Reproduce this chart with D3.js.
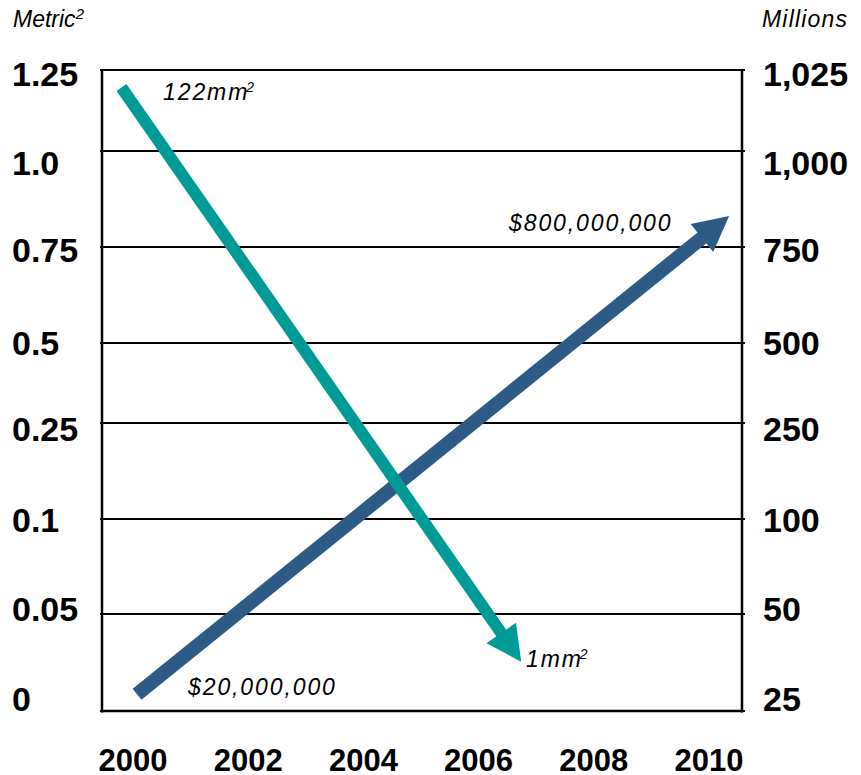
<!DOCTYPE html>
<html>
<head>
<meta charset="utf-8">
<script src="https://cdn.jsdelivr.net/npm/d3@7"></script>
<style>
  html, body { margin: 0; padding: 0; background: #fff; }
  svg { display: block; font-family: "Liberation Sans", Arial, Helvetica, sans-serif; }
</style>
</head>
<body>
<svg id="chart" width="861" height="775"></svg>
<script>
// ---------- data ----------
const years = [2000, 2002, 2004, 2006, 2008, 2010];
const leftTicks = [0, 0.05, 0.1, 0.25, 0.5, 0.75, 1.0, 1.25];
const leftTickLabels = ["0", "0.05", "0.1", "0.25", "0.5", "0.75", "1.0", "1.25"];
const rightTicks = [25, 50, 100, 250, 500, 750, 1000, 1025];
const rightTickLabels = ["25", "50", "100", "250", "500", "750", "1,000", "1,025"];
const leftAxisTitle = "Metric";
const rightAxisTitle = "Millions";
// feature size trend (left axis), start -> end
const featureYears = [1999.8, 2006.74];
const featureValues = [1.196, 0.0254];
// cost trend (right axis, millions), start -> end
const costYears = [2000.07, 2010.35];
const costValues = [29.3, 831];
const featureLabels = ["122mm", "1mm"];
const costLabels = ["$20,000,000", "$800,000,000"];

// ---------- layout ----------
const svg = d3.select("#chart");
svg.append("rect").attr("width", 861).attr("height", 775).attr("fill", "#fff");

const plotLeft = 102, plotRight = 742, plotTop = 70, plotBottom = 711;
const gridPx = [711, 614, 519, 423, 343, 247, 151, 70];
const labelCenterPx = [698.5, 609, 520, 429, 343, 250, 162.5, 73.5];

const x = d3.scaleLinear().domain([2000, 2010]).range([133, 709]);
const yLeft = d3.scaleLinear().domain(leftTicks).range(gridPx);
const yRight = d3.scaleLinear().domain(rightTicks).range(gridPx);
const yLabel = d3.scaleLinear().domain(leftTicks).range(labelCenterPx);

const teal = "#009B97";
const blue = "#2E5A86";

// gridlines
svg.append("g").selectAll("line").data(leftTicks).join("line")
  .attr("x1", plotLeft - 2).attr("x2", plotRight + 3)
  .attr("y1", d => yLeft(d)).attr("y2", d => yLeft(d))
  .attr("stroke", "#000").attr("stroke-width", 2);

// axes lines
svg.append("line").attr("x1", plotLeft).attr("x2", plotLeft)
  .attr("y1", plotTop - 1).attr("y2", plotBottom + 1.5)
  .attr("stroke", "#000").attr("stroke-width", 2.5);
svg.append("line").attr("x1", plotRight).attr("x2", plotRight)
  .attr("y1", plotTop - 1).attr("y2", plotBottom + 1.5)
  .attr("stroke", "#000").attr("stroke-width", 2.5);
svg.append("line").attr("x1", plotLeft - 1).attr("x2", plotRight + 1)
  .attr("y1", plotBottom).attr("y2", plotBottom)
  .attr("stroke", "#000").attr("stroke-width", 2.5);

// tick labels
const tickFont = 34;
svg.append("g").selectAll("text").data(leftTicks).join("text")
  .attr("x", 12)
  .attr("y", d => yLabel(d) + tickFont * 0.36)
  .attr("font-size", tickFont).attr("font-weight", "bold").attr("fill", "#000")
  .text((d, i) => leftTickLabels[i]);
svg.append("g").selectAll("text").data(rightTicks).join("text")
  .attr("x", 763)
  .attr("y", (d, i) => yLabel(leftTicks[i]) + tickFont * 0.36)
  .attr("font-size", tickFont).attr("font-weight", "bold").attr("fill", "#000")
  .text((d, i) => rightTickLabels[i]);
svg.append("g").selectAll("text").data(years).join("text")
  .attr("x", d => x(d)).attr("y", 771)
  .attr("text-anchor", "middle")
  .attr("font-size", 31).attr("font-weight", "bold").attr("fill", "#000")
  .text(d => d);

// axis titles
const lt = svg.append("text").attr("x", 13).attr("y", 27)
  .attr("font-size", 23).attr("font-style", "italic").attr("fill", "#000");
lt.append("tspan").text(leftAxisTitle);
lt.append("tspan").attr("font-size", 15).attr("dy", -8).text("2");
svg.append("text").attr("x", 762).attr("y", 27)
  .attr("font-size", 23).attr("font-style", "italic").attr("fill", "#000")
  .attr("letter-spacing", 1.2)
  .text(rightAxisTitle);

// arrows
function arrow(p0, p1, w, color) {
  const dx = p1[0] - p0[0], dy = p1[1] - p0[1];
  const len = Math.hypot(dx, dy);
  const ux = dx / len, uy = dy / len;
  const nx = -uy, ny = ux;
  const L = 35, W = 36;
  const bx = p1[0] - L * ux, by = p1[1] - L * uy;
  const g = svg.append("g");
  g.append("line")
    .attr("x1", p0[0]).attr("y1", p0[1])
    .attr("x2", bx + ux * 2).attr("y2", by + uy * 2)
    .attr("stroke", color).attr("stroke-width", w).attr("stroke-linecap", "butt");
  g.append("path")
    .attr("d", d3.line()([[p1[0], p1[1]], [bx + nx * W / 2, by + ny * W / 2], [bx - nx * W / 2, by - ny * W / 2]]) + "Z")
    .attr("fill", color);
}
arrow([x(costYears[0]), yRight(costValues[0])], [x(costYears[1]), yRight(costValues[1])], 14, blue);
arrow([x(featureYears[0]), yLeft(featureValues[0])], [x(featureYears[1]), yLeft(featureValues[1])], 12, teal);

// annotations
function annot(xp, yp, txt, sup) {
  const t = svg.append("text").attr("x", xp).attr("y", yp)
    .attr("font-size", 23).attr("font-style", "italic").attr("fill", "#000");
  t.append("tspan").attr("letter-spacing", 1.9).text(txt);
  if (sup) t.append("tspan").attr("font-size", 14).attr("dy", -8).attr("dx", -3).text(sup);
}
annot(163, 100, featureLabels[0], "2");
annot(526, 667, featureLabels[1], "2");
annot(188, 695, costLabels[0]);
annot(509, 231, costLabels[1]);
</script>
</body>
</html>
